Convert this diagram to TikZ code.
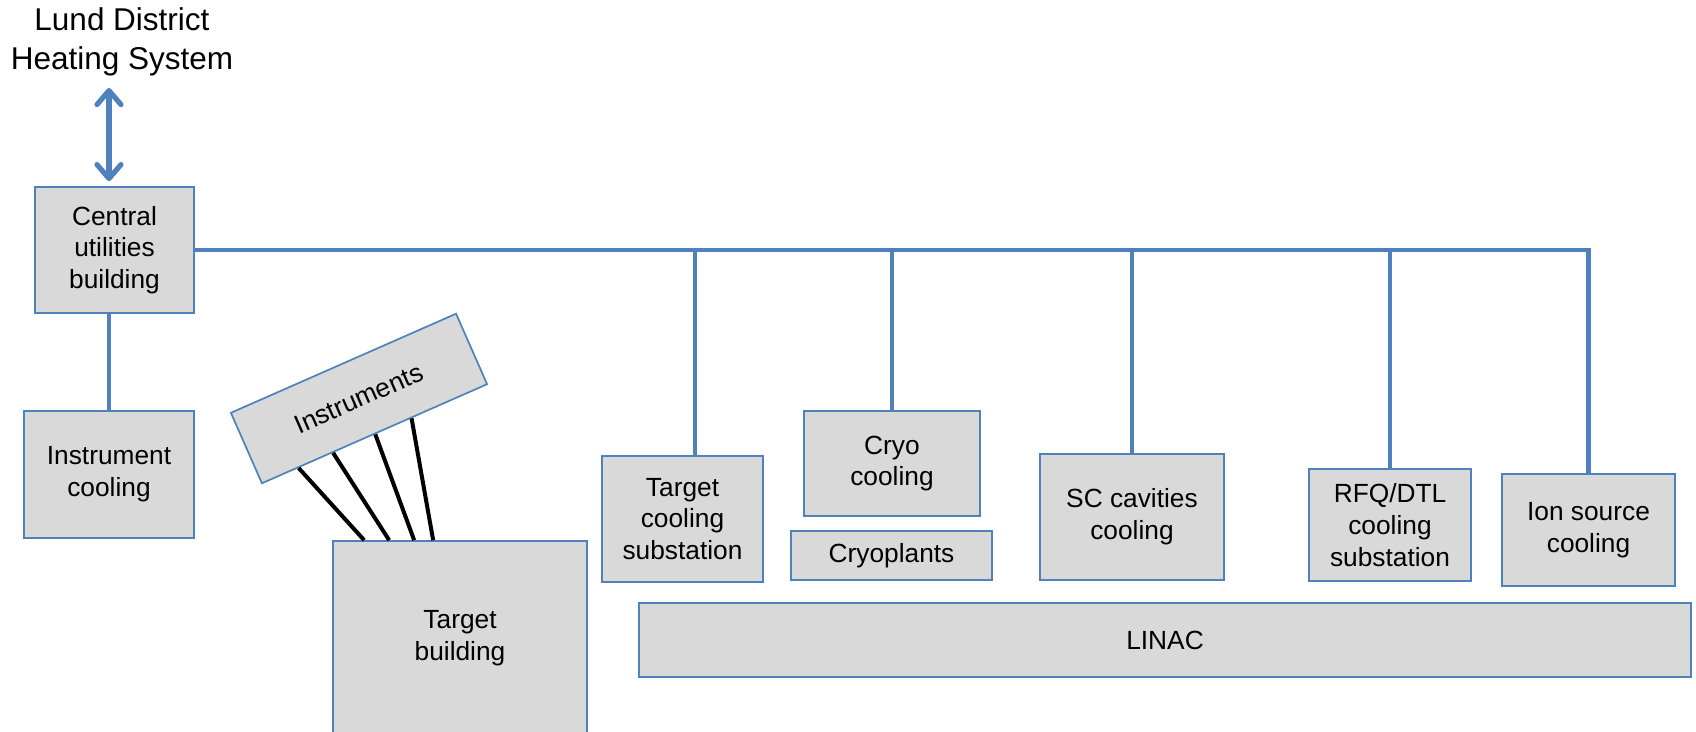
\documentclass[tikz,border=0pt]{standalone}
\usepackage{fontspec}
\setmainfont{Liberation Sans}
\usetikzlibrary{arrows.meta,positioning,calc}
\definecolor{pipeblue}{HTML}{4F81BD}
\definecolor{boxgrey}{HTML}{D9D9D9}
\newcommand{\boxfont}{\fontsize{26.3}{31.7}\selectfont}
\newcommand{\titlefont}{\fontsize{31.5}{39}\selectfont}
\tikzset{
  unitbox/.style={draw=pipeblue, fill=boxgrey, line width=1.7pt, align=center,
    inner sep=0pt, font=\boxfont},
  pipe/.style={draw=pipeblue, line width=4.4pt},
  heatarr/.style={pipe, line width=5.2pt,
    {Straight Barb[length=14pt,width=24pt,round]}-{Straight Barb[length=14pt,width=24pt,round]}},
  cable/.style={draw=black, line width=4pt}
}

\begin{document}
\begin{tikzpicture}[x=1pt, y=-1pt]
    \clip (0,0) rectangle (1696,731);
    \node[font=\titlefont, align=center] (lund) at (122,42) {Lund District\\Heating System};
    \node[unitbox, minimum width=159pt, minimum height=126pt] (cub) at (114.5,250) {Central\\utilities\\building};
    \node[unitbox, minimum width=170pt, minimum height=127pt] (instcool) at (109,474.5) {Instrument\\cooling};
    \node[unitbox, minimum width=246pt, minimum height=77pt, rotate=23.75] (instr) at (359,398.5) {Instruments};
    \node[unitbox, minimum width=254pt, minimum height=194pt] (tgtbldg) at (460,638) {Target\\building};
    \node[unitbox, minimum width=161pt, minimum height=126pt] (tgtcool) at (682.5,519) {Target\\cooling\\substation};
    \node[unitbox, minimum width=176pt, minimum height=105pt] (cryocool) at (892,463.5) {Cryo\\cooling};
    \node[unitbox, minimum width=201pt, minimum height=49pt] (cryoplant) at (891.5,555.5) {Cryoplants};
    \node[unitbox, minimum width=184pt, minimum height=126pt] (sccool) at (1132,517) {SC cavities\\cooling};
    \node[unitbox, minimum width=162pt, minimum height=112pt] (rfqcool) at (1390,525) {RFQ/DTL\\cooling\\substation};
    \node[unitbox, minimum width=173pt, minimum height=112pt] (ioncool) at (1588.5,530) {Ion source\\cooling};
    \node[unitbox, minimum width=1052pt, minimum height=74pt] (linac) at (1165,640) {LINAC};
    \coordinate (heatend) at (109,88);
    \coordinate (bus) at (0,250);
    \coordinate (tgttap) at ([xshift=12.5pt]tgtcool.north);
    \draw[heatarr, shorten >=5pt] (heatend) -- (heatend |- cub.north);
    \draw[pipe] (instcool.north) -- (instcool.north |- cub.south);
    \draw[pipe] (cub.east) -| (ioncool.north);
    \draw[pipe] (tgttap |- bus) -- (tgttap);
    \foreach \n in {cryocool, sccool, rfqcool}
      \draw[pipe] (bus -| \n.north) -- (\n.north);
    \foreach \f/\d in {0.164/32, 0.316/57, 0.502/82, 0.662/101}
      \draw[cable] ($(instr.south west)!\f!(instr.south east)$) -- ([xshift=\d pt]tgtbldg.north west);
\end{tikzpicture}
\end{document}
